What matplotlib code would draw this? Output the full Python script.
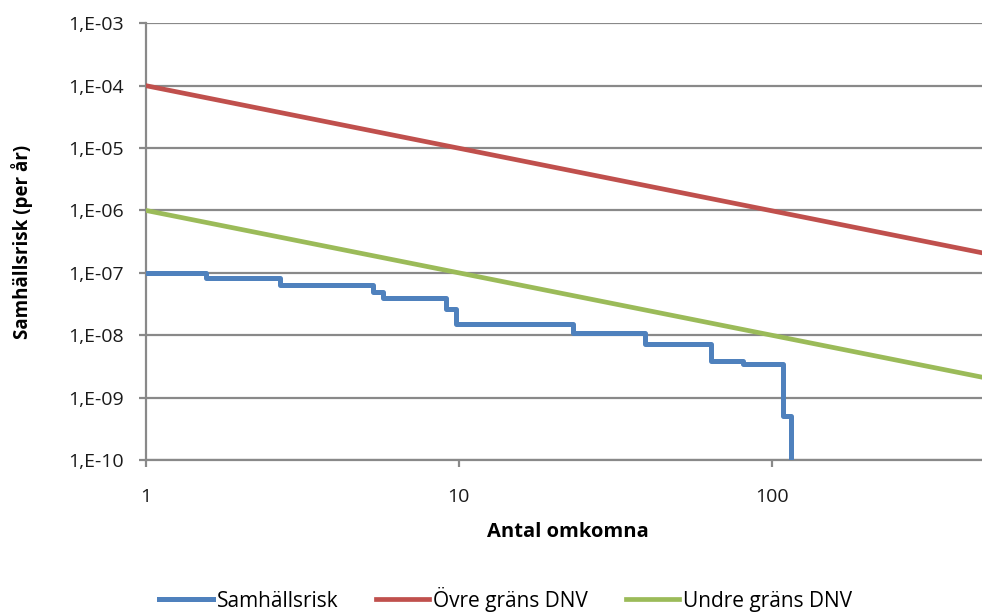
import matplotlib.pyplot as plt
from matplotlib.ticker import FixedLocator, FixedFormatter, NullLocator

# Samhällsrisk (F/N-kurva), stegvis
antal = [1, 1.55, 2.68, 5.33, 5.73, 9.13, 9.83, 23.2, 39.3, 64.2, 81, 109, 115.6]
risk = [1e-7, 8.2e-8, 6.3e-8, 5.0e-8, 3.9e-8, 2.65e-8, 1.49e-8, 1.08e-8,
        7.3e-9, 3.9e-9, 3.5e-9, 5.1e-10, 1e-11]

# DNV-gränser (raka linjer i log-log)
grans_n = [1, 470]
ovre = [1e-4, 2.1e-7]
undre = [1e-6, 2.13e-9]

yticks = [1e-10, 1e-9, 1e-8, 1e-7, 1e-6, 1e-5, 1e-4, 1e-3]
ylabels = ['1,E-10', '1,E-09', '1,E-08', '1,E-07', '1,E-06', '1,E-05', '1,E-04', '1,E-03']
xticks = [1, 10, 100]
xlabels = ['1', '10', '100']

plt.rcParams['font.family'] = ['Open Sans', 'DejaVu Sans']
grey = '#898989'

fig = plt.figure(figsize=(9.82, 6.12), dpi=100)
ax = fig.add_axes([0.1487, 0.2484, 0.851, 0.7135])

ax.step(antal, risk, where='post', color='#4F81BD', lw=3.6, label='Samhällsrisk', zorder=3)
ax.plot(grans_n, ovre, color='#C0504D', lw=3.4, label='Övre gräns DNV', zorder=3)
ax.plot(grans_n, undre, color='#9BBB59', lw=3.4, label='Undre gräns DNV', zorder=3)

ax.set_xscale('log')
ax.set_yscale('log')
ax.set_xlim(1, 470)
ax.set_ylim(1e-10, 1e-3)

ax.yaxis.set_major_locator(FixedLocator(yticks))
ax.yaxis.set_major_formatter(FixedFormatter(ylabels))
ax.yaxis.set_minor_locator(NullLocator())
ax.xaxis.set_major_locator(FixedLocator(xticks))
ax.xaxis.set_major_formatter(FixedFormatter(xlabels))
ax.xaxis.set_minor_locator(NullLocator())

ax.grid(axis='y', color=grey, lw=1.6, zorder=1)
for s in ['top', 'right']:
    ax.spines[s].set_visible(False)
for s in ['left', 'bottom']:
    ax.spines[s].set_color(grey)
    ax.spines[s].set_linewidth(1.6)
ax.tick_params(axis='both', colors=grey, labelcolor='#1a1a1a', labelsize=14, length=5, width=1.6)
ax.tick_params(axis='y', pad=11)
ax.tick_params(axis='x', pad=15)

ax.set_ylabel('Samhällsrisk (per år)', fontsize=13.5, fontweight='bold')
ax.yaxis.set_label_coords(-0.135, 0.5)
ax.set_xlabel('Antal omkomna', fontsize=14.5, fontweight='bold')
ax.xaxis.set_label_coords(0.505, -0.142)

fig.legend(loc='center', bbox_to_anchor=(0.515, 0.021), ncol=3, frameon=False,
           fontsize=15, handlelength=2.55, handletextpad=0.2, columnspacing=1.8)

fig.savefig('out.png', dpi=100)
